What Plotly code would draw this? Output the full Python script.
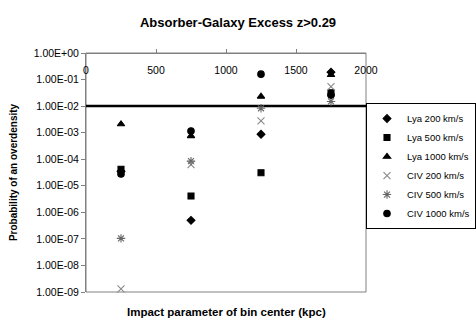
import plotly.graph_objects as go

# ======================
# DATA
# ======================
bin_centers = [250, 750, 1250, 1750]

lya_200 = [3.5e-5, 5.0e-7, 8.7e-4, 1.9e-1]
lya_500 = [4.2e-5, 4.1e-6, 3.1e-5, 3.2e-2]
lya_1000 = [2.1e-3, 7.5e-4, 2.3e-2, 1.5e-1]
civ_200 = [1.3e-9, 6.3e-5, 2.8e-3, 5.4e-2]
civ_500 = [1.05e-7, 8.5e-5, 8.3e-3, 1.5e-2]
civ_1000 = [2.8e-5, 1.15e-3, 1.6e-1, 2.6e-2]

threshold = 1e-2

x_tickvals = [0, 500, 1000, 1500, 2000]
y_tickvals = [10.0 ** k for k in range(0, -10, -1)]
y_ticktext = ["1.00E+00", "1.00E-01", "1.00E-02", "1.00E-03", "1.00E-04",
              "1.00E-05", "1.00E-06", "1.00E-07", "1.00E-08", "1.00E-09"]

FONT = "Arial, Liberation Sans, sans-serif"
GREY = "#808080"

# ======================
# PLOT
# ======================
fig = go.Figure()

fig.add_trace(go.Scatter(
    x=[0, 2000], y=[threshold, threshold], mode="lines",
    line=dict(color="black", width=2.5), showlegend=False, hoverinfo="skip"
))

series = [
    ("Lya 200 km/s", lya_200, "diamond", "black", 6),
    ("Lya 500 km/s", lya_500, "square", "black", 6),
    ("Lya 1000 km/s", lya_1000, "triangle-up", "black", 6.5),
    ("CIV 200 km/s", civ_200, "x-thin-open", "#888888", 7),
    ("CIV 500 km/s", civ_500, "asterisk-open", "#666666", 7),
    ("CIV 1000 km/s", civ_1000, "circle", "black", 6.5),
]

for name, vals, sym, col, size in series:
    fig.add_trace(go.Scatter(
        x=bin_centers, y=vals, mode="markers", name=name,
        marker=dict(symbol=sym, color=col, size=size,
                    line=dict(color=col, width=1.1)),
        cliponaxis=False
    ))

# plot-area frame
fig.add_shape(type="rect", xref="paper", yref="paper", x0=0, x1=1, y0=0, y1=1,
              line=dict(color=GREY, width=1), layer="below")

fig.update_layout(
    width=476, height=327,
    margin=dict(l=86, r=110, t=53, b=35, autoexpand=False),
    paper_bgcolor="white", plot_bgcolor="white",
    font=dict(family=FONT, size=10, color="black"),
    showlegend=True,
    title=dict(text="<b>Absorber-Galaxy Excess z>0.29</b>",
               x=0.5, xanchor="center", y=0.932, yanchor="middle",
               font=dict(size=13)),
    # x axis crosses at the top (y = 1): line on top, ticks up, labels below it
    xaxis=dict(
        range=[0, 2000], autorange=False, side="bottom",
        anchor="free", position=1,
        tickvals=x_tickvals, ticks="inside", ticklen=4, tickcolor=GREY,
        ticklabelstandoff=7,
        showgrid=False, zeroline=False,
        showline=True, linecolor=GREY, linewidth=1,
        tickfont=dict(size=10.5), automargin=False
    ),
    yaxis=dict(
        type="log", range=[-9, 0], autorange=False,
        tickvals=y_tickvals, ticktext=y_ticktext,
        ticks="outside", ticklen=4, tickcolor=GREY,
        showgrid=False, zeroline=False,
        showline=True, linecolor=GREY, linewidth=1,
        automargin=False, tickfont=dict(size=10.5),
        title=dict(text="<b>Probability of an overdensity</b>",
                   font=dict(size=10), standoff=14)
    ),
    legend=dict(
        x=1.0, xref="container", y=0.527, xanchor="right", yanchor="middle",
        bordercolor="black", borderwidth=1, bgcolor="white",
        font=dict(size=9.5), itemwidth=30, tracegroupgap=0
    ),
    annotations=[dict(
        text="<b>Impact parameter of bin center (kpc)</b>",
        xref="paper", yref="paper", x=0.5, y=-0.05,
        xanchor="center", yanchor="top", showarrow=False,
        font=dict(size=11.5)
    )]
)

fig.write_html("out.html", config={"displayModeBar": False},
               post_script="document.body.style.margin='0';")
